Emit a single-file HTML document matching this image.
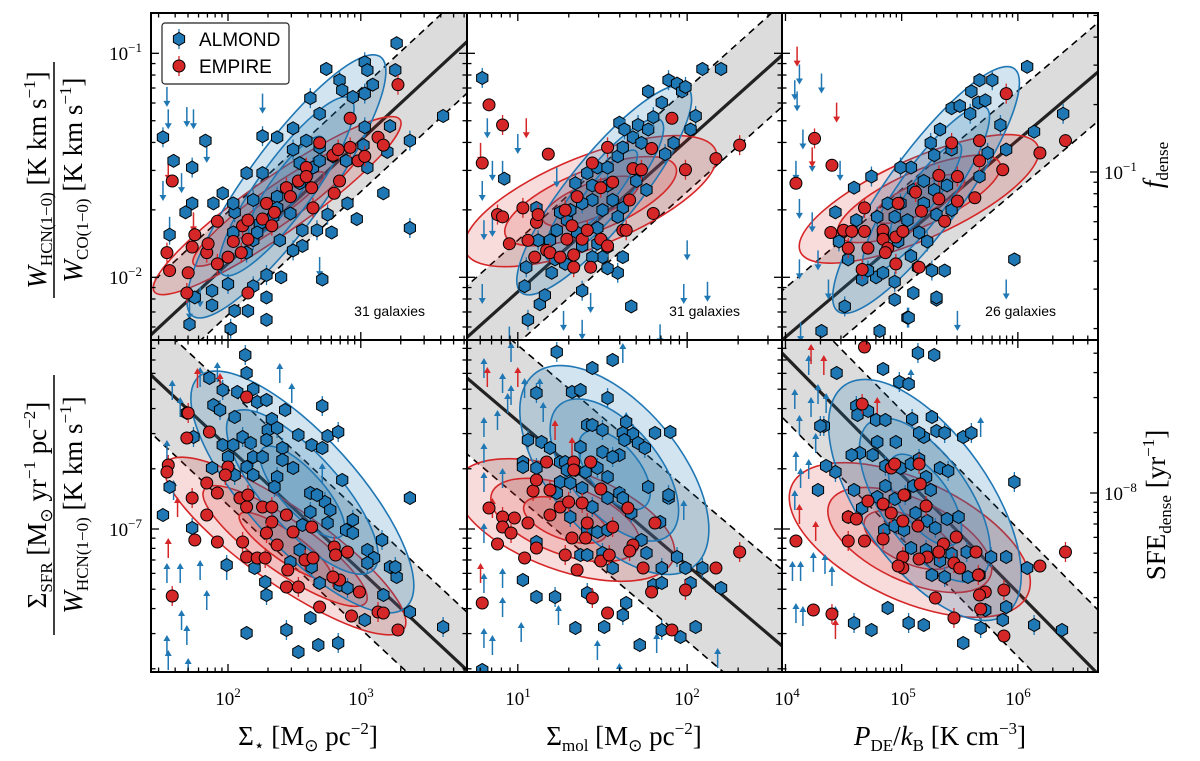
<!DOCTYPE html>
<html><head><meta charset="utf-8"><style>
html,body{margin:0;padding:0;background:#fff;}
svg{display:block;font-family:"Liberation Serif",serif;}
</style></head>
<body>
<svg id="fig" width="1200" height="761" viewBox="0 0 1200 761" xmlns="http://www.w3.org/2000/svg">
<g id="panels"></g>
<g id="labels">
  <text x="228" y="705" font-size="19" text-anchor="middle">10<tspan dy="-8" font-size="13">2</tspan></text>
  <text x="361" y="705" font-size="19" text-anchor="middle">10<tspan dy="-8" font-size="13">3</tspan></text>
  <text x="518" y="705" font-size="19" text-anchor="middle">10<tspan dy="-8" font-size="13">1</tspan></text>
  <text x="687" y="705" font-size="19" text-anchor="middle">10<tspan dy="-8" font-size="13">2</tspan></text>
  <text x="787" y="705" font-size="19" text-anchor="middle">10<tspan dy="-8" font-size="13">4</tspan></text>
  <text x="903" y="705" font-size="19" text-anchor="middle">10<tspan dy="-8" font-size="13">5</tspan></text>
  <text x="1018" y="705" font-size="19" text-anchor="middle">10<tspan dy="-8" font-size="13">6</tspan></text>
  <text x="142" y="60" font-size="19" text-anchor="end">10<tspan dy="-8" font-size="13">−1</tspan></text>
  <text x="142" y="284" font-size="19" text-anchor="end">10<tspan dy="-8" font-size="13">−2</tspan></text>
  <text x="142" y="536" font-size="19" text-anchor="end">10<tspan dy="-8" font-size="13">−7</tspan></text>
  <text x="1104" y="179" font-size="19">10<tspan dy="-8" font-size="13">−1</tspan></text>
  <text x="1104" y="500" font-size="19">10<tspan dy="-8" font-size="13">−8</tspan></text>

  <text x="308" y="745" font-size="27" text-anchor="middle">Σ<tspan font-size="17" dy="6">⋆</tspan><tspan dy="-6"> [M</tspan><tspan font-size="17" dy="6">⊙</tspan><tspan dy="-6"> pc</tspan><tspan font-size="17" dy="-11">−2</tspan><tspan dy="11">]</tspan></text>
  <text x="624" y="745" font-size="27" text-anchor="middle">Σ<tspan font-size="17" dy="6">mol</tspan><tspan dy="-6"> [M</tspan><tspan font-size="17" dy="6">⊙</tspan><tspan dy="-6"> pc</tspan><tspan font-size="17" dy="-11">−2</tspan><tspan dy="11">]</tspan></text>
  <text x="940" y="745" font-size="27" text-anchor="middle"><tspan font-style="italic">P</tspan><tspan font-size="17" dy="6">DE</tspan><tspan dy="-6">/</tspan><tspan font-style="italic">k</tspan><tspan font-size="17" dy="6">B</tspan><tspan dy="-6"> [K cm</tspan><tspan font-size="17" dy="-11">−3</tspan><tspan dy="11">]</tspan></text>

  <g transform="translate(52,180) rotate(-90)">
    <text x="0" y="-6" font-size="27" text-anchor="middle"><tspan font-style="italic">W</tspan><tspan font-size="17" dy="6">HCN(1−0)</tspan><tspan dy="-6"> [K km s</tspan><tspan font-size="17" dy="-11">−1</tspan><tspan dy="11">]</tspan></text>
    <line x1="-118" y1="2" x2="118" y2="2" stroke="#000" stroke-width="1.5"/>
    <text x="0" y="30" font-size="27" text-anchor="middle"><tspan font-style="italic">W</tspan><tspan font-size="17" dy="6">CO(1−0)</tspan><tspan dy="-6"> [K km s</tspan><tspan font-size="17" dy="-11">−1</tspan><tspan dy="11">]</tspan></text>
  </g>
  <g transform="translate(52,505) rotate(-90)">
    <text x="0" y="-6" font-size="27" text-anchor="middle">Σ<tspan font-size="17" dy="6">SFR</tspan><tspan dy="-6"> [M</tspan><tspan font-size="17" dy="6">⊙</tspan><tspan dy="-6"> yr</tspan><tspan font-size="17" dy="-11">−1</tspan><tspan dy="11"> pc</tspan><tspan font-size="17" dy="-11">−2</tspan><tspan dy="11">]</tspan></text>
    <line x1="-130" y1="2" x2="130" y2="2" stroke="#000" stroke-width="1.5"/>
    <text x="0" y="30" font-size="27" text-anchor="middle"><tspan font-style="italic">W</tspan><tspan font-size="17" dy="6">HCN(1−0)</tspan><tspan dy="-6"> [K km s</tspan><tspan font-size="17" dy="-11">−1</tspan><tspan dy="11">]</tspan></text>
  </g>
  <g transform="translate(1162,165) rotate(-90)">
    <text x="0" y="0" font-size="27" text-anchor="middle"><tspan font-style="italic">f</tspan><tspan font-size="17" dy="6">dense</tspan></text>
  </g>
  <g transform="translate(1165,505) rotate(-90)">
    <text x="0" y="0" font-size="27" text-anchor="middle">SFE<tspan font-size="17" dy="6">dense</tspan><tspan dy="-6"> [yr</tspan><tspan font-size="17" dy="-11">−1</tspan><tspan dy="11">]</tspan></text>
  </g>
</g>
</svg>
<script>
// ===== data (log10 values) =====
const xTickLabels = ["10^2","10^3","10^1","10^2","10^4","10^5","10^6"];
const galaxyCounts = [31, 31, 26];
const fitSlope = [0.55, 0.677, 0.44, -0.62, -0.72, -0.59];
const fitIntercept = [-3.038, -2.742, -4.027, -5.35, -5.741, -3.778];
const fitScatter = [0.23, 0.23, 0.22, 0.29, 0.38, 0.32];
const contourAlmondX = [2.44, 1.51, 5.21, 2.56, 1.57, 5.2];
const contourAlmondY = [-1.594, -1.61, -1.61, -6.815, -6.705, -6.855];
const contourEmpireX = [2.37, 1.43, 5.15, 2.43, 1.28, 5.07];
const contourEmpireY = [-1.68, -1.66, -1.65, -7.085, -6.955, -7.055];

const almondP1T = [[1.51,-1.375],[1.59,-1.48],[1.83,-1.39],[1.73,-1.51],[1.73,-1.67],[1.68,-1.71],[1.56,-1.81],[1.89,-1.67],[1.96,-1.625],[2.05,-1.71],[2.14,-1.535],[2.26,-1.535],[2.26,-1.37],[2.37,-1.375],[2.49,-1.335],[2.62,-1.2],[2.69,-1.27],[2.74,-1.07],[2.84,-1.12],[2.86,-1.165],[2.94,-1.195],[3.03,-1.04],[3.05,-1.075],[3.09,-1.14],[3.03,-1.18],[3.26,-1.075],[3.27,-0.955],[3.03,-1.33],[3.22,-1.325],[3.62,-1.28],[3.37,-1.39],[3.2,-1.44],[3.17,-1.625],[3.37,-1.78],[2.97,-1.74],[2.9,-1.67],[2.75,-1.72],[2.78,-1.8],[2.71,-2.01],[2.67,-1.79],[2.56,-1.79],[2.56,-1.86],[2.49,-1.88],[2.39,-1.835],[2.4,-2.0],[2.29,-1.99],[2.29,-2.09],[2.29,-2.19],[2.19,-2.04],[2.15,-2.15],[2.05,-2.15],[2.02,-2.23],[1.88,-2.125],[1.88,-2.06],[2.0,-2.03],[1.75,-2.09],[1.71,-2.21],[2.19,-1.835],[2.24,-1.76],[2.34,-1.73],[2.37,-1.64],[2.44,-1.6],[2.54,-1.58],[2.64,-1.51],[2.69,-1.48],[2.54,-1.49],[2.69,-1.42],[2.79,-1.46],[2.89,-1.48],[3.02,-1.41],[3.05,-1.51],[2.04,-1.67],[2.19,-1.655],[2.47,-1.715],[2.04,-1.8],[2.14,-1.89],[2.22,-1.8],[2.37,-1.69],[2.49,-1.43],[2.59,-1.39]];
const empireP1T = [[1.58,-1.57],[1.54,-1.89],[1.56,-1.97],[1.7,-1.98],[1.69,-2.07],[1.75,-1.81],[1.73,-1.865],[1.84,-1.89],[1.85,-1.85],[1.92,-1.75],[1.92,-1.94],[2.0,-1.91],[2.04,-1.84],[2.11,-1.77],[2.15,-1.83],[2.15,-1.745],[2.1,-1.89],[2.15,-2.07],[2.26,-1.74],[2.33,-1.77],[2.35,-1.71],[2.29,-1.67],[2.44,-1.6],[2.47,-1.64],[2.53,-1.57],[2.59,-1.51],[2.59,-1.55],[2.63,-1.6],[2.64,-1.69],[2.69,-1.4],[2.79,-1.455],[2.83,-1.43],[2.84,-1.57],[2.8,-1.625],[2.92,-1.42],[2.92,-1.29],[2.98,-1.48],[3.03,-1.46],[3.13,-1.375],[3.17,-1.41],[3.28,-1.14]];
const almondLimP1T = [[1.54,-1.15],[1.55,-1.25],[1.69,-1.24],[1.74,-1.25],[2.26,-1.18],[1.51,-1.57],[1.65,-1.535],[1.84,-1.4],[1.56,-1.73],[2.69,-1.91],[1.71,-2.1],[1.79,-2.045]];
const empireLimP1T = [[1.55,-1.48],[1.74,-1.71]];

const almondP2T = [[0.79,-1.11],[0.92,-1.56],[1.11,-1.69],[1.05,-1.955],[1.04,-2.04],[1.13,-2.12],[1.06,-2.19],[1.16,-2.08],[1.2,-1.98],[1.12,-1.835],[1.23,-1.79],[1.29,-1.745],[1.34,-1.58],[1.41,-1.535],[1.47,-1.51],[1.53,-1.51],[1.59,-1.46],[1.6,-1.31],[1.63,-1.34],[1.62,-1.42],[1.68,-1.375],[1.71,-1.32],[1.73,-1.4],[1.77,-1.34],[1.8,-1.285],[1.85,-1.22],[1.77,-1.17],[1.89,-1.12],[1.94,-1.135],[1.97,-1.17],[1.99,-1.15],[2.09,-1.07],[2.2,-1.07],[2.05,-1.28],[2.02,-1.34],[1.92,-1.4],[1.87,-1.45],[1.76,-1.61],[1.7,-1.57],[1.62,-1.69],[1.59,-1.73],[1.62,-1.91],[1.59,-1.98],[1.53,-1.96],[1.5,-1.91],[1.44,-1.91],[1.38,-1.86],[1.35,-1.8],[1.47,-1.78],[1.5,-1.7],[1.44,-1.655],[1.38,-1.67],[1.31,-1.7],[1.25,-1.71],[1.19,-1.835],[1.22,-1.92],[1.28,-1.94],[1.38,-2.06],[1.67,-2.13],[1.56,-1.655],[1.53,-1.59],[1.44,-1.59],[1.47,-1.85],[1.53,-1.865]];
const empireP2T = [[0.83,-1.23],[0.91,-1.32],[0.79,-1.49],[1.18,-1.45],[0.88,-1.72],[0.91,-1.73],[0.95,-1.85],[1.03,-1.69],[1.06,-1.835],[1.11,-1.755],[1.12,-1.72],[1.1,-1.91],[1.17,-1.88],[1.19,-1.89],[1.25,-1.91],[1.29,-1.83],[1.28,-1.7],[1.32,-1.77],[1.33,-1.9],[1.33,-1.955],[1.35,-1.64],[1.38,-1.83],[1.41,-1.79],[1.43,-1.955],[1.44,-1.49],[1.49,-1.6],[1.49,-1.83],[1.53,-1.86],[1.53,-1.42],[1.56,-1.575],[1.62,-1.79],[1.64,-1.79],[1.66,-1.655],[1.68,-1.515],[1.73,-1.52],[1.79,-1.425],[1.91,-1.29],[1.99,-1.52],[1.8,-1.715],[2.17,-1.47],[2.31,-1.41]];
const almondLimP2T = [[0.82,-1.29],[1.0,-1.36],[0.85,-1.48],[0.91,-1.48],[0.79,-1.57],[0.8,-1.745],[0.85,-1.73],[0.79,-2.03],[0.95,-2.22],[2.0,-1.835],[1.98,-2.03],[2.12,-2.02],[1.23,-1.51],[1.43,-2.07],[1.84,-2.21],[1.27,-2.15],[1.38,-2.19]];
const empireLimP2T = [[1.05,-1.29],[0.78,-1.4]];

const almondP3T = [[4.74,-1.55],[4.59,-1.6],[4.43,-1.71],[4.46,-1.84],[4.61,-1.745],[4.54,-1.92],[4.51,-2.13],[4.66,-2.01],[4.78,-2.0],[4.94,-2.02],[4.94,-2.1],[4.84,-1.98],[4.71,-1.97],[4.31,-2.24],[4.81,-2.24],[5.05,-2.18],[5.3,-2.1],[5.37,-1.97],[5.26,-1.97],[5.14,-1.955],[5.08,-1.905],[5.22,-1.84],[5.15,-1.8],[5.05,-1.745],[4.99,-1.67],[5.1,-1.61],[5.19,-1.67],[5.28,-1.61],[5.39,-1.59],[5.3,-1.72],[5.43,-1.7],[5.19,-1.57],[5.08,-1.51],[4.99,-1.51],[4.88,-1.67],[4.94,-1.73],[4.79,-1.73],[4.84,-1.81],[4.97,-1.84],[5.25,-1.4],[5.33,-1.34],[5.43,-1.43],[5.28,-1.455],[5.43,-1.245],[5.5,-1.235],[5.59,-1.27],[5.6,-1.17],[5.67,-1.12],[5.78,-1.12],[5.66,-1.22],[5.72,-1.21],[5.85,-1.32],[5.9,-1.43],[5.67,-1.55],[5.74,-1.445],[6.08,-1.06],[6.14,-1.35],[6.39,-1.27],[5.3,-2.09],[5.1,-2.07],[5.06,-2.18],[5.97,-1.92]];
const empireP3T = [[4.09,-1.58],[4.25,-1.38],[4.4,-1.5],[4.39,-1.8],[4.54,-1.87],[4.5,-1.79],[4.57,-1.795],[4.68,-1.69],[4.68,-1.795],[4.71,-1.87],[4.66,-1.965],[4.84,-1.79],[4.84,-1.83],[4.88,-1.87],[4.95,-1.82],[5.01,-1.795],[4.95,-1.94],[4.86,-1.89],[4.97,-1.67],[5.12,-1.62],[5.17,-1.705],[5.15,-1.955],[5.32,-1.545],[5.32,-1.65],[5.37,-1.75],[5.43,-1.4],[5.48,-1.66],[5.67,-1.39],[5.67,-1.48],[5.63,-1.645],[5.87,-1.52],[5.9,-1.18],[6.19,-1.445],[6.41,-1.39],[5.48,-1.55]];
const almondLimP3T = [[4.08,-1.12],[4.12,-1.05],[4.31,-1.09],[4.1,-1.17],[4.15,-1.34],[4.09,-1.48],[4.23,-1.44],[4.47,-1.48],[4.12,-1.65],[4.23,-1.71],[4.12,-1.92],[4.28,-1.88],[4.37,-2.01],[5.9,-2.01],[5.48,-2.15],[4.13,-2.2]];
const empireLimP3T = [[4.1,-0.97],[4.44,-1.22],[4.23,-1.42]];

const almondP1B = [[2.13,-6.13],[2.14,-6.22],[1.86,-6.245],[1.96,-6.305],[2.07,-6.315],[2.19,-6.3],[2.22,-6.365],[2.29,-6.355],[1.89,-6.38],[1.94,-6.405],[2.05,-6.44],[2.43,-6.405],[2.71,-6.385],[2.33,-6.45],[2.3,-6.505],[2.37,-6.495],[2.53,-6.53],[2.75,-6.535],[2.83,-6.515],[2.63,-6.58],[2.71,-6.595],[2.11,-6.54],[2.17,-6.57],[2.29,-6.555],[2.41,-6.595],[1.96,-6.58],[2.04,-6.58],[1.74,-6.54],[1.69,-6.42],[2.0,-6.64],[2.19,-6.64],[2.26,-6.64],[1.88,-6.695],[2.05,-6.73],[2.14,-6.69],[2.19,-6.73],[2.37,-6.74],[2.49,-6.695],[2.41,-6.655],[2.35,-6.79],[2.86,-6.755],[2.62,-6.82],[2.73,-6.865],[2.67,-6.83],[2.77,-6.905],[2.62,-6.915],[2.56,-6.98],[2.75,-6.97],[2.94,-6.955],[2.89,-7.005],[2.94,-7.02],[3.16,-7.055],[3.05,-7.105],[3.1,-7.145],[3.05,-7.17],[3.22,-7.19],[3.27,-7.24],[3.26,-7.19],[3.17,-7.33],[3.37,-7.415],[3.62,-7.49],[3.37,-6.845],[2.84,-7.28],[2.9,-7.295],[3.03,-7.455],[2.62,-7.445],[2.44,-7.505],[2.14,-7.52],[2.68,-7.58],[2.83,-7.57],[2.53,-7.615],[2.69,-7.27],[2.63,-7.19],[2.54,-7.105],[2.47,-7.165],[2.29,-7.33],[2.28,-7.265],[2.2,-7.195],[1.99,-7.18],[1.51,-6.93],[1.56,-6.79],[1.73,-6.995]];
const empireP1B = [[2.14,-6.34],[1.7,-6.42],[1.69,-6.545],[1.86,-6.515],[1.55,-6.68],[1.54,-6.715],[2.0,-6.69],[1.98,-6.73],[1.84,-6.77],[1.92,-6.82],[1.73,-6.845],[1.84,-6.93],[2.09,-6.845],[2.15,-6.83],[2.14,-6.89],[2.26,-6.89],[2.33,-6.89],[2.44,-6.93],[2.33,-6.965],[2.29,-7.02],[2.49,-7.015],[2.63,-6.99],[2.8,-7.09],[2.81,-7.13],[2.9,-7.115],[2.58,-7.155],[2.64,-7.145],[2.37,-7.08],[2.11,-7.065],[2.14,-7.14],[2.22,-7.145],[2.28,-7.145],[2.45,-7.205],[2.44,-7.29],[2.53,-7.29],[2.84,-7.255],[2.99,-7.315],[2.79,-7.24],[1.75,-7.055],[1.92,-7.065],[1.58,-7.335],[2.69,-7.39],[2.93,-7.435],[3.13,-7.415],[3.17,-7.42],[3.28,-7.505]];
const almondLimP1B = [[1.58,-6.255],[1.64,-6.34],[1.79,-6.19],[1.92,-6.165],[1.54,-6.555],[1.59,-6.755],[1.64,-7.17],[1.54,-7.17],[1.79,-7.155],[1.84,-7.305],[1.65,-7.405],[1.69,-7.48],[1.54,-7.53],[1.55,-7.605],[1.7,-7.645],[1.99,-7.155],[2.48,-6.27],[2.71,-6.67],[2.39,-6.17]];
const empireLimP1B = [[1.77,-6.195],[1.94,-6.22],[1.55,-7.045],[1.62,-6.84]];

const almondP2B = [[1.23,-6.115],[1.56,-6.155],[1.44,-6.195],[1.11,-6.32],[1.32,-6.315],[1.37,-6.305],[1.53,-6.345],[1.41,-6.48],[1.44,-6.48],[1.5,-6.505],[1.64,-6.465],[1.62,-6.52],[1.68,-6.525],[1.63,-6.555],[1.71,-6.57],[1.75,-6.595],[1.81,-6.52],[1.9,-6.515],[1.06,-6.555],[1.14,-6.565],[1.19,-6.595],[1.37,-6.59],[1.5,-6.615],[1.6,-6.63],[1.56,-6.64],[1.03,-6.665],[1.03,-6.69],[1.11,-6.695],[1.25,-6.665],[1.28,-6.665],[1.29,-6.705],[1.34,-6.705],[1.4,-6.715],[1.47,-6.695],[1.53,-6.74],[1.25,-6.765],[1.31,-6.77],[1.38,-6.795],[1.23,-6.82],[1.44,-6.89],[1.53,-6.845],[1.6,-6.82],[1.62,-6.845],[1.77,-6.79],[1.89,-6.845],[1.67,-6.92],[1.73,-7.055],[1.76,-7.12],[1.85,-7.195],[1.8,-7.28],[1.85,-7.27],[1.94,-7.14],[1.99,-7.195],[2.02,-7.27],[2.09,-7.195],[2.2,-7.295],[2.05,-7.49],[1.85,-7.505],[1.96,-7.54],[1.72,-7.58],[1.62,-7.43],[1.51,-7.49],[1.34,-7.495],[1.22,-7.34],[1.11,-7.34],[1.03,-7.255],[1.41,-7.32],[1.37,-7.13],[1.41,-7.13],[1.5,-7.12],[1.56,-7.195],[1.64,-7.37],[1.89,-6.83],[0.79,-7.705],[1.84,-6.965],[1.41,-7.005],[1.47,-7.015],[1.53,-7.005],[1.31,-6.94],[1.11,-7.065]];
const empireP2B = [[0.83,-6.895],[0.91,-6.94],[0.98,-6.945],[0.91,-6.99],[0.96,-7.02],[0.88,-7.075],[1.06,-6.97],[1.09,-6.81],[1.11,-6.755],[1.17,-6.665],[1.19,-6.805],[1.25,-6.89],[1.19,-6.93],[1.3,-6.865],[1.33,-6.665],[1.33,-6.705],[1.38,-6.87],[1.43,-6.665],[1.49,-6.8],[1.41,-6.97],[1.32,-7.045],[1.4,-7.045],[1.56,-6.99],[1.11,-7.095],[1.04,-7.145],[1.28,-7.13],[1.35,-7.205],[1.49,-7.16],[1.54,-7.13],[1.65,-6.895],[1.68,-7.08],[1.66,-7.11],[1.74,-7.195],[1.81,-6.97],[1.44,-7.345],[1.53,-7.42],[1.79,-7.315],[1.99,-7.305],[1.91,-7.505],[2.17,-7.195],[2.31,-7.115],[0.79,-7.37]];
const almondLimP2B = [[0.8,-6.145],[0.91,-6.22],[0.96,-6.065],[0.94,-6.32],[0.88,-6.405],[0.8,-6.44],[1.04,-6.245],[1.13,-6.245],[1.15,-6.365],[0.8,-6.57],[0.8,-6.715],[0.91,-6.695],[0.8,-6.97],[0.8,-7.22],[0.91,-7.195],[0.85,-7.53],[0.8,-7.495],[0.91,-7.34],[1.02,-7.465],[1.24,-7.38],[1.47,-7.555],[1.6,-7.67],[1.82,-7.52],[2.18,-7.595],[1.98,-6.855],[1.62,-6.07],[1.64,-6.415],[0.96,-6.28]];
const empireLimP2B = [[0.82,-6.19],[1.0,-6.19],[1.22,-6.455],[0.78,-7.17],[0.85,-6.845],[1.32,-6.54]];

const almondP3B = [[5.14,-6.12],[5.28,-6.13],[4.84,-6.2],[4.98,-6.265],[5.06,-6.275],[4.44,-6.22],[4.61,-6.385],[4.71,-6.41],[4.62,-6.43],[4.33,-6.485],[4.78,-6.455],[4.86,-6.455],[5.09,-6.45],[5.26,-6.44],[5.3,-6.51],[5.37,-6.52],[5.19,-6.54],[5.53,-6.54],[5.6,-6.52],[4.95,-6.565],[4.79,-6.565],[4.64,-6.62],[4.75,-6.63],[4.57,-6.63],[4.86,-6.685],[4.99,-6.695],[5.08,-6.675],[5.15,-6.65],[5.21,-6.74],[5.33,-6.695],[5.4,-6.71],[5.25,-6.805],[5.1,-6.785],[5.03,-6.83],[4.94,-6.85],[4.79,-6.84],[4.66,-6.895],[4.54,-6.94],[4.59,-6.805],[4.43,-6.715],[4.28,-6.805],[4.35,-6.685],[4.3,-6.485],[4.85,-7.005],[4.94,-6.985],[5.02,-7.005],[5.12,-6.92],[5.22,-6.96],[5.29,-6.995],[5.39,-6.95],[5.49,-6.94],[5.56,-7.115],[5.43,-7.125],[5.33,-7.16],[5.21,-7.105],[5.08,-7.095],[5.26,-7.23],[5.37,-7.24],[5.57,-7.24],[5.67,-7.23],[5.77,-7.14],[5.9,-7.14],[6.08,-7.195],[5.97,-6.765],[5.72,-7.405],[5.9,-7.39],[5.68,-7.495],[5.53,-7.57],[5.87,-7.455],[6.14,-7.48],[6.38,-7.505],[5.19,-7.48],[5.06,-7.47],[4.88,-7.395],[4.74,-7.505],[4.59,-7.47],[4.86,-6.785],[5.15,-6.52]];
const empireP3B = [[4.68,-6.09],[4.66,-6.375],[4.54,-6.94],[4.61,-6.95],[4.54,-7.06],[4.68,-7.06],[4.71,-6.86],[4.84,-7.05],[4.91,-6.695],[4.94,-6.675],[5.15,-6.675],[5.16,-6.775],[5.02,-6.83],[4.91,-6.92],[5.01,-6.96],[5.14,-6.985],[5.21,-6.885],[5.47,-7.04],[5.36,-7.075],[5.32,-7.115],[5.22,-7.14],[5.15,-7.15],[5.01,-7.14],[5.01,-7.195],[4.97,-7.185],[5.45,-7.17],[5.5,-7.195],[5.64,-7.115],[5.66,-7.23],[5.72,-7.315],[5.67,-7.33],[5.88,-7.305],[5.88,-7.535],[5.68,-7.4],[5.45,-7.445],[5.29,-7.345],[6.19,-7.185],[6.41,-7.115],[4.09,-7.06],[4.24,-7.405],[4.4,-7.425],[4.84,-6.875]];
const almondLimP3B = [[4.08,-6.3],[4.12,-6.43],[4.09,-6.61],[4.13,-6.695],[4.08,-6.805],[4.2,-6.65],[4.26,-6.52],[4.22,-6.34],[4.28,-6.275],[4.35,-6.32],[4.06,-7.16],[4.13,-7.16],[4.24,-7.115],[4.34,-7.125],[4.4,-7.185],[4.15,-7.385],[4.09,-7.37],[4.2,-6.13],[5.08,-6.2],[5.68,-6.44],[4.43,-7.385]];
const empireLimP3B = [[4.22,-6.075],[4.33,-6.13],[4.79,-6.34],[4.12,-6.875],[4.43,-7.45],[4.26,-6.96]];

// ===== layout (pixel geometry, not data) =====
const colPx = [[151,467],[467,782],[782,1098]];
const colLog = [[1.42,3.80],[0.70,2.56],[3.97,6.69]];
const rowPx = [[13,340],[340,672]];
const rowLog = [[-0.82,-2.28],[-6.055,-7.715]];
const contourStyleA = [[160,40,-54],[132,35,-51],[150,38,-54],[155,55,48],[125,65,50],[140,65,55]];
const contourStyleE = [[150,28,-35],[135,45,-22],[130,40,-24],[145,38,35],[115,50,20],[130,60,25]];
const BLUE="#1f77b4", RED="#d62728";

const seriesA=[almondP1T,almondP2T,almondP3T,almondP1B,almondP2B,almondP3B];
const seriesE=[empireP1T,empireP2T,empireP3T,empireP1B,empireP2B,empireP3B];
const limA=[almondLimP1T,almondLimP2T,almondLimP3T,almondLimP1B,almondLimP2B,almondLimP3B];
const limE=[empireLimP1T,empireLimP2T,empireLimP3T,empireLimP1B,empireLimP2B,empireLimP3B];

const NS="http://www.w3.org/2000/svg";
function mk(tag,attrs,parent){const e=document.createElementNS(NS,tag);for(const k in attrs)e.setAttribute(k,attrs[k]);if(parent)parent.appendChild(e);return e;}
const root=document.getElementById('panels');

for(let p=0;p<6;p++){
  const c=p%3,r=Math.floor(p/3);
  const [X0,X1]=colPx[c],[L0,L1]=colLog[c],[Y0,Y1]=rowPx[r],[M0,M1]=rowLog[r];
  const sx=v=>X0+(v-L0)/(L1-L0)*(X1-X0);
  const sy=v=>Y0+(v-M0)/(M1-M0)*(Y1-Y0);
  const g=mk('g',{},root);
  
  
  const cid='clip'+p;
  const cp=mk('clipPath',{id:cid},g);mk('rect',{x:X0,y:Y0,width:X1-X0,height:Y1-Y0},cp);
  const inner=mk('g',{'clip-path':'url(#'+cid+')'},g);
  // band
  const m=fitSlope[p],b=fitIntercept[p],s=fitScatter[p];
  const xa=L0-0.5,xb=L1+0.5;
  const band=mk('polygon',{points:[[xa,m*xa+b+s],[xb,m*xb+b+s],[xb,m*xb+b-s],[xa,m*xa+b-s]].map(q=>sx(q[0])+','+sy(q[1])).join(' '),fill:'#dcdcdc'},inner);
  
  
  for(const off of [s,-s]){
    const dl=mk('line',{x1:sx(xa),y1:sy(m*xa+b+off),x2:sx(xb),y2:sy(m*xb+b+off),stroke:'#000','stroke-width':1.6,'stroke-dasharray':'7,5'},inner);
    
    
  }
  const fl=mk('line',{x1:sx(xa),y1:sy(m*xa+b),x2:sx(xb),y2:sy(m*xb+b),stroke:'#222','stroke-width':3.2},inner);
  
  
  // contours
  const drawC=(cx,cy,st,col,fillc,nm)=>{
    const [a,bb,ang]=st;
    for(const k of [1,0.68,0.38]){
      const el=mk('ellipse',{cx:sx(cx),cy:sy(cy),rx:a*k,ry:bb*k,transform:`rotate(${ang} ${sx(cx)} ${sy(cy)})`,fill:fillc,stroke:col,'stroke-width':1.6},inner);
      
      
    }
  };
  drawC(contourEmpireX[p],contourEmpireY[p],contourStyleE[p],RED,'rgba(214,39,40,0.16)','empire-contour');
  drawC(contourAlmondX[p],contourAlmondY[p],contourStyleA[p],BLUE,'rgba(31,119,180,0.2)','almond-contour');
  // limits
  const up=r===1;
  const drawLim=(arr,col,nm)=>{
    for(const q of arr){
      const x=sx(q[0]),y=sy(q[1]);
      const ya=up?y+20:y, yb=up?y:y+20;
      const gl=mk('g',{},inner);
      
      
      mk('line',{x1:x,y1:ya,x2:x,y2:up?yb+4:yb-4,stroke:col,'stroke-width':1.5},gl);
      mk('polygon',{points:up?`${x-3.5},${yb+6} ${x+3.5},${yb+6} ${x},${yb}`:`${x-3.5},${yb-6} ${x+3.5},${yb-6} ${x},${yb}`,fill:col},gl);
    }
  };
  drawLim(limA[p],BLUE,'almond-limit-arrow');
  drawLim(limE[p],RED,'empire-limit-arrow');
  // points
  seriesA[p].forEach((q,i)=>{
    const x=sx(q[0]),y=sy(q[1]);
    if(i%3===0){const eb=mk('line',{x1:x,y1:y-10,x2:x,y2:y+10,stroke:BLUE,'stroke-width':1.3},inner);
      
      }
    let pts=[];for(let k=0;k<6;k++){const t=Math.PI/2+k*Math.PI/3;pts.push((x+6.5*Math.cos(t)).toFixed(1)+','+(y+6.5*Math.sin(t)).toFixed(1));}
    const h=mk('polygon',{points:pts.join(' '),fill:BLUE,stroke:'#000','stroke-width':1},inner);
    
    
  });
  seriesE[p].forEach((q,i)=>{
    const x=sx(q[0]),y=sy(q[1]);
    if(i%3===1){const eb=mk('line',{x1:x,y1:y-10,x2:x,y2:y+10,stroke:RED,'stroke-width':1.3},inner);
      
      }
    const ci=mk('circle',{cx:x,cy:y,r:6,fill:RED,stroke:'#000','stroke-width':1},inner);
    
    
  });
  // ticks
  const tk=mk('g',{stroke:'#000','stroke-width':1.3},g);
  
  
  for(let d=Math.floor(L0);d<=Math.ceil(L1);d++){for(let k=1;k<10;k++){const v=d+Math.log10(k);if(v<L0||v>L1)continue;const x=sx(v),len=k===1?8:4.5;
    mk('line',{x1:x,y1:Y1,x2:x,y2:Y1-len},tk);mk('line',{x1:x,y1:Y0,x2:x,y2:Y0+len},tk);}}
  const yt=(lo,hi,fy,xEdge,dir)=>{for(let d=Math.floor(Math.min(lo,hi))-1;d<=Math.ceil(Math.max(lo,hi))+1;d++){for(let k=1;k<10;k++){const v=d+Math.log10(k);const y=fy(v);if(y<Y0||y>Y1)continue;const len=k===1?8:4.5;mk('line',{x1:xEdge,y1:y,x2:xEdge+dir*len,y2:y},tk);}}};
  yt(M0,M1,sy,X0,1);
  if(c===2){
    const ry=r===0?(v=>172-(v+1)*224):(v=>493-(v+8)*200);
    yt(r===0?-0.3:-7.3,r===0?-1.8:-8.9,ry,X1,-1);
  } else yt(M0,M1,sy,X1,-1);
  const fr=mk('rect',{x:X0,y:Y0,width:X1-X0,height:Y1-Y0,fill:'none',stroke:'#000','stroke-width':2},g);
  
  
  if(r===0){
    const t=mk('text',{x:X1-42,y:Y1-24,'font-size':14,'text-anchor':'end','font-family':'Liberation Sans, sans-serif'},g);
    t.textContent=galaxyCounts[c]+' galaxies';
    
    
  }
}
// legend
const lg=mk('g',{},root);


mk('rect',{x:162,y:23,width:127,height:61,rx:3,fill:'#fff',stroke:'#222','stroke-width':1.2},lg);
const hx=179,hy=39;
mk('line',{x1:hx,y1:hy-10,x2:hx,y2:hy+10,stroke:BLUE,'stroke-width':1.3},lg);
let hp=[];for(let k=0;k<6;k++){const t=Math.PI/2+k*Math.PI/3;hp.push((hx+6.5*Math.cos(t)).toFixed(1)+','+(hy+6.5*Math.sin(t)).toFixed(1));}
const lh=mk('polygon',{points:hp.join(' '),fill:BLUE,stroke:'#000','stroke-width':1},lg);


mk('line',{x1:179,y1:56,x2:179,y2:76,stroke:RED,'stroke-width':1.3},lg);
const lc=mk('circle',{cx:179,cy:66,r:6,fill:RED,stroke:'#000','stroke-width':1},lg);


const t1=mk('text',{x:199,y:46,'font-size':19,'font-family':'Liberation Sans, sans-serif'},lg);t1.textContent='ALMOND';


const t2=mk('text',{x:199,y:73,'font-size':19,'font-family':'Liberation Sans, sans-serif'},lg);t2.textContent='EMPIRE';


</script>
</body></html>
